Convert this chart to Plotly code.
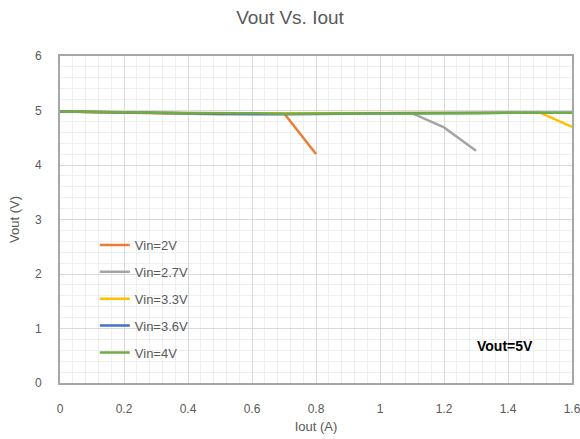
import plotly.graph_objects as go

iout = [0, 0.1, 0.2, 0.3, 0.4, 0.5, 0.6, 0.7, 0.8, 0.9, 1.0, 1.1, 1.2, 1.3, 1.4, 1.5, 1.6]
vin2 = [4.98, 4.97, 4.95, 4.94, 4.93, 4.93, 4.94, 4.95, 4.2]
vin27 = [4.98, 4.97, 4.96, 4.95, 4.95, 4.95, 4.95, 4.95, 4.95, 4.95, 4.96, 4.95, 4.69, 4.26]
vin33 = [4.98, 4.97, 4.96, 4.95, 4.95, 4.95, 4.95, 4.95, 4.95, 4.96, 4.96, 4.96, 4.96, 4.96, 4.96, 4.96, 4.70]
vin36 = [4.98, 4.97, 4.96, 4.95, 4.94, 4.94, 4.93, 4.93, 4.93, 4.94, 4.95, 4.95, 4.95, 4.96, 4.96, 4.96, 4.96]
vin4 = [4.98, 4.98, 4.97, 4.96, 4.96, 4.95, 4.95, 4.94, 4.94, 4.94, 4.95, 4.95, 4.95, 4.95, 4.96, 4.96, 4.96]
x_ticks = [0, 0.2, 0.4, 0.6, 0.8, 1, 1.2, 1.4, 1.6]
x_tick_labels = ["0", "0.2", "0.4", "0.6", "0.8", "1", "1.2", "1.4", "1.6"]

names = ["Vin=2V", "Vin=2.7V", "Vin=3.3V", "Vin=3.6V", "Vin=4V"]
series = [vin2, vin27, vin33, vin36, vin4]
colors = ["#ED7D31", "#A5A5A5", "#FFC000", "#4472C4", "#70AD47"]

FONT = "Liberation Sans, Arial, sans-serif"
TXT = "#595959"

fig = go.Figure()
for i, (n, s, c) in enumerate(zip(names, series, colors)):
    fig.add_trace(go.Scatter(x=iout[:len(s)], y=s, mode="lines", name=n,
                             line=dict(color=c, width=2.5), legendgroup=str(i)))

fig.add_annotation(x=1.39, y=0.68, xref="x", yref="y", text="<b>Vout=5V</b>",
                   showarrow=False, xanchor="center",
                   font=dict(size=14, color="#000000", family=FONT))

fig.update_layout(
    width=580, height=439,
    margin=dict(l=60, r=8, t=56, b=56, autoexpand=False),
    paper_bgcolor="white", plot_bgcolor="white",
    font=dict(family=FONT, color=TXT, size=12),
    title=dict(text="Vout Vs. Iout", x=0.5, xanchor="center", y=0.96, yanchor="middle",
               font=dict(size=19, color=TXT, family=FONT)),
    showlegend=True,
    legend=dict(x=0.068, y=0.468, xanchor="left", yanchor="top", bgcolor="rgba(0,0,0,0)",
                font=dict(size=13, color=TXT, family=FONT), tracegroupgap=7,
                itemwidth=30),
)
fig.update_xaxes(range=[0, 1.6000001], tickvals=x_ticks, ticktext=x_tick_labels,
                 ticklabeloverflow="allow",
                 showgrid=True, gridcolor="#d9d9d9", gridwidth=1,
                 minor=dict(dtick=0.04, tick0=0, showgrid=True, gridcolor="#efefef"),
                 zeroline=False, showline=True, mirror=True, linecolor="#a6a6a6", linewidth=2,
                 automargin=False,
                 ticklabelstandoff=14, tickfont=dict(size=12, color=TXT),
                 title=dict(text="Iout (A)", font=dict(size=13, color=TXT), standoff=6))
fig.update_yaxes(range=[0, 6], dtick=1, tick0=0, showgrid=True, gridcolor="#d9d9d9", gridwidth=1,
                 minor=dict(dtick=0.2, showgrid=True, gridcolor="#efefef"),
                 zeroline=False, showline=True, mirror=True, linecolor="#a6a6a6", linewidth=2,
                 automargin=False,
                 ticklabelstandoff=14, tickfont=dict(size=12, color=TXT),
                 title=dict(text="Vout (V)", font=dict(size=13, color=TXT), standoff=12))

fig.write_html("out.html", config={"displayModeBar": False},
               post_script="document.body.style.margin='0';document.body.style.overflow='hidden';")
